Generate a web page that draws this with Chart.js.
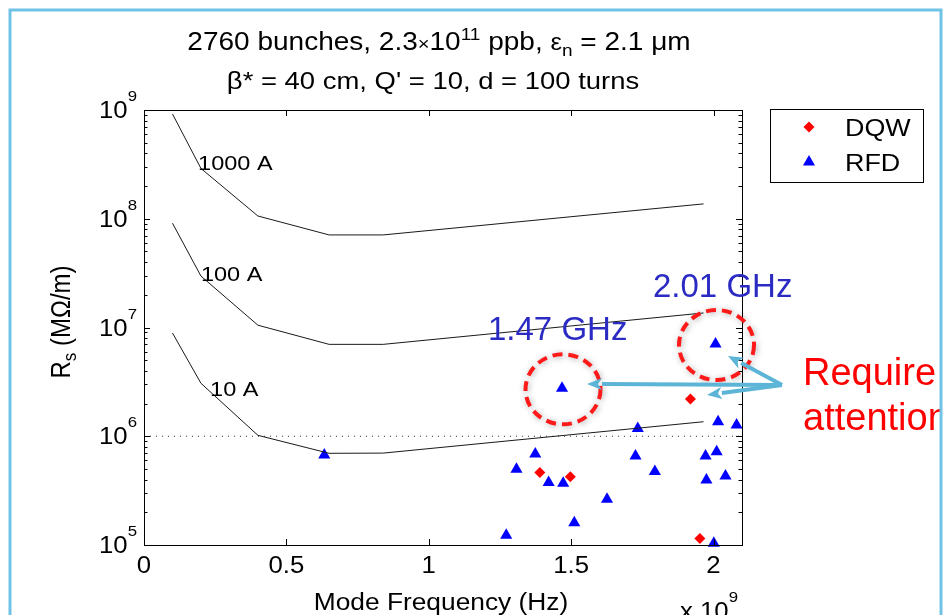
<!DOCTYPE html>
<html>
<head>
<meta charset="utf-8">
<script src="https://cdn.jsdelivr.net/npm/chart.js@4.4.1/dist/chart.umd.min.js"></script>
<style>
  html, body { margin: 0; padding: 0; background: #fff; }
  #wrap { position: relative; width: 952px; height: 615px; }
</style>
</head>
<body>
<div id="wrap"><canvas id="rs-graph" width="952" height="615"></canvas></div>
<script>
// mode frequency in units of 1e9 Hz, Rs in MOhm/m
const curve_freq = [0.1, 0.2, 0.4, 0.65, 0.84, 1.965];
const curve_1000A = [9.2e8, 2.9e8, 1.06e8, 7.1e7, 7.1e7, 1.37e8];
const curve_100A = [9.1e7, 2.97e7, 1.05e7, 7.0e6, 7.0e6, 1.36e7];
const curve_10A = [8.9e6, 3.07e6, 1.02e6, 6.97e5, 7.0e5, 1.36e6];
const curve_names = ['1000 A', '100 A', '10 A'];
const curve_label_x = [0.19, 0.2, 0.232];
const curve_label_y = [2.8e8, 2.69e7, 2.36e6];

const ref_freq = [0, 2.1];
const ref_rs = [1e6, 1e6];

const dqw_freq = [1.39, 1.497, 1.919, 1.952];
const dqw_rs = [4.63e5, 4.25e5, 2.2e6, 1.15e5];

const rfd_freq = [0.633, 1.272, 1.308, 1.374, 1.421, 1.468, 1.472, 1.511, 1.626, 1.726,
                  1.734, 1.794, 1.972, 1.975, 2.001, 2.007, 2.011, 2.016, 2.042, 2.081];
const rfd_rs = [6.73e5, 1.23e5, 4.97e5, 6.87e5, 3.76e5, 2.76e6, 3.7e5, 1.6e5, 2.63e5, 6.58e5,
                1.18e6, 4.73e5, 6.58e5, 3.96e5, 1.04e5, 7.05e6, 7.2e5, 1.36e6, 4.3e5, 1.27e6];

const x_ticks = [0, 0.5, 1, 1.5, 2];
const y_ticks = [1e5, 1e6, 1e7, 1e8, 1e9];

// points that are circled on the slide
const circled_freq = [1.468, 2.007];
const circled_text = ['1.47 GHz', '2.01 GHz'];

const FONT = '"Liberation Sans", Arial, sans-serif';
const SX = 1.12; // the matlab figure is a bit stretched sideways on the slide

function to_xy(xs, ys) {
    return xs.map((x, i) => ({ x: x, y: ys[i] }));
}

// draws text made of pieces (for super/subscripts)
function rich_text(ctx, parts, x, y, align, sx, sy, rot) {
    let w = 0;
    for (let p of parts) {
        ctx.font = p.s + 'px ' + FONT;
        w += ctx.measureText(p.t).width;
    }
    let cx = align === 'center' ? -w / 2 : (align === 'right' ? -w : 0);
    ctx.save();
    ctx.translate(x, y);
    if (rot) ctx.rotate(rot);
    ctx.scale(sx, sy);
    ctx.textAlign = 'left';
    ctx.textBaseline = 'alphabetic';
    for (let p of parts) {
        ctx.font = p.s + 'px ' + FONT;
        ctx.fillText(p.t, cx, p.dy || 0);
        cx += ctx.measureText(p.t).width;
    }
    ctx.restore();
}

function arrow(ctx, x0, y0, x1, y1) {
    let a = Math.atan2(y1 - y0, x1 - x0);
    let hl = 15, hw = 6;
    let bx = x1 - Math.cos(a) * hl, by = y1 - Math.sin(a) * hl;
    ctx.beginPath();
    ctx.moveTo(x0, y0);
    ctx.lineTo(bx, by);
    ctx.stroke();
    ctx.beginPath();
    ctx.moveTo(x1, y1);
    ctx.lineTo(bx - Math.sin(a) * hw, by + Math.cos(a) * hw);
    ctx.lineTo(x1 - Math.cos(a) * (hl - 4), y1 - Math.sin(a) * (hl - 4));
    ctx.lineTo(bx + Math.sin(a) * hw, by - Math.cos(a) * hw);
    ctx.closePath();
    ctx.fill();
}

const decor = {
    id: 'decor',
    beforeDraw(chart) {
        let ctx = chart.ctx;
        ctx.save();
        ctx.fillStyle = '#fff';
        ctx.fillRect(0, 0, chart.width, chart.height);
        ctx.restore();
    },
    afterDatasetsDraw(chart) {
        let ctx = chart.ctx;
        let xs = chart.scales.x, ys = chart.scales.y;
        let a = chart.chartArea;
        ctx.save();

        // axes box + ticks
        ctx.strokeStyle = '#000';
        ctx.lineWidth = 1;
        ctx.strokeRect(a.left + 0.5, a.top + 0.5, a.right - a.left, a.bottom - a.top);
        ctx.beginPath();
        for (let t of x_ticks) {
            let px = Math.round(xs.getPixelForValue(t)) + 0.5;
            ctx.moveTo(px, a.bottom); ctx.lineTo(px, a.bottom - 6);
            ctx.moveTo(px, a.top); ctx.lineTo(px, a.top + 6);
        }
        for (let d = 0; d < y_ticks.length; d++) {
            let v = y_ticks[d];
            let py = Math.round(ys.getPixelForValue(v)) + 0.5;
            ctx.moveTo(a.left, py); ctx.lineTo(a.left + 6, py);
            ctx.moveTo(a.right, py); ctx.lineTo(a.right - 6, py);
            if (d < y_ticks.length - 1) {
                for (let m = 2; m < 10; m++) {
                    let pm = Math.round(ys.getPixelForValue(v * m)) + 0.5;
                    ctx.moveTo(a.left, pm); ctx.lineTo(a.left + 3.5, pm);
                    ctx.moveTo(a.right, pm); ctx.lineTo(a.right - 3.5, pm);
                }
            }
        }
        ctx.stroke();

        // tick labels
        ctx.fillStyle = '#000';
        for (let t of x_ticks) {
            rich_text(ctx, [{ t: String(t), s: 23 }], xs.getPixelForValue(t), 573, 'center', SX, 1);
        }
        for (let v of y_ticks) {
            let py = ys.getPixelForValue(v);
            rich_text(ctx, [{ t: '10', s: 23 }, { t: String(Math.round(Math.log10(v))), s: 15, dy: -17 }],
                137, py + 8, 'right', SX, 1);
        }
        rich_text(ctx, [{ t: 'x 10', s: 23 }, { t: '9', s: 15, dy: -17 }], 680, 619, 'left', SX, 1);

        // axis titles
        rich_text(ctx, [{ t: 'Mode Frequency (Hz)', s: 23.5 }], (a.left + a.right) / 2 - 2, 610, 'center', SX, 1);
        rich_text(ctx, [{ t: 'R', s: 24 }, { t: 's', s: 17, dy: 5 }, { t: ' (M\u03A9/m)', s: 24 }],
            70, 322, 'center', 1, SX, -Math.PI / 2);

        // title
        let cxt = (a.left + a.right) / 2 - 4;
        rich_text(ctx, [
            { t: '2760 bunches, 2.3', s: 25 }, { t: '\u00D7', s: 18 }, { t: '10', s: 25 },
            { t: '11', s: 17, dy: -10 }, { t: ' ppb, ', s: 25 }, { t: '\u03B5', s: 23 },
            { t: 'n', s: 17, dy: 6 }, { t: ' = 2.1 \u03BCm', s: 25 }
        ], cxt, 50, 'center', SX, 1);
        rich_text(ctx, [{ t: '\u03B2* = 40 cm, Q\' = 10, d = 100 turns', s: 24.5 }], cxt - 6, 89, 'center', SX, 1);

        // curve labels
        for (let i = 0; i < curve_names.length; i++) {
            rich_text(ctx, [{ t: curve_names[i], s: 21 }],
                xs.getPixelForValue(curve_label_x[i]), ys.getPixelForValue(curve_label_y[i]), 'left', SX, 1);
        }

        // legend
        ctx.strokeStyle = '#000';
        ctx.lineWidth = 1;
        ctx.strokeRect(770.5, 109.5, 153, 73);
        let leg = [chart.data.datasets[4], chart.data.datasets[5]];
        let ly = [127, 162];
        leg.forEach((ds, i) => {
            ctx.fillStyle = ds.backgroundColor;
            ctx.strokeStyle = ds.borderColor;
            Chart.helpers.drawPoint(ctx, { pointStyle: ds.pointStyle, radius: ds.pointRadius, rotation: 0, borderWidth: 0 }, 809, ly[i]);
            ctx.fillStyle = '#000';
            rich_text(ctx, [{ t: ds.label, s: 24 }], 845, ly[i] + 9, 'left', SX, 1);
        });
        ctx.restore();

        // slide annotations
        ctx.save();
        ctx.beginPath();
        ctx.rect(0, 0, 940, chart.height);
        ctx.clip();
        let pts = circled_freq.map(f => {
            let i = rfd_freq.indexOf(f);
            return { x: xs.getPixelForValue(rfd_freq[i]), y: ys.getPixelForValue(rfd_rs[i]) };
        });
        ctx.save();
        ctx.shadowColor = 'rgba(0,0,0,0.35)';
        ctx.shadowBlur = 6;
        ctx.shadowOffsetX = 1;
        ctx.shadowOffsetY = 1;
        ctx.strokeStyle = '#ff1a1a';
        ctx.lineWidth = 4;
        ctx.setLineDash([10, 6]);
        for (let p of pts) {
            ctx.beginPath();
            ctx.ellipse(p.x + 1, p.y + 1, 37.5, 35, 0, 0, Math.PI * 2);
            ctx.stroke();
        }
        ctx.restore();

        ctx.strokeStyle = '#5cb4d6';
        ctx.fillStyle = '#5cb4d6';
        ctx.lineWidth = 4;
        arrow(ctx, 782, 385, 587, 384);
        arrow(ctx, 782, 385, 728, 356);
        arrow(ctx, 782, 385, 707, 395);

        ctx.fillStyle = '#2b2bc4';
        ctx.font = '33px ' + FONT;
        ctx.textAlign = 'left';
        ctx.textBaseline = 'alphabetic';
        ctx.fillText(circled_text[0], 488, 340);
        ctx.fillText(circled_text[1], 653, 297);

        ctx.fillStyle = '#ff0000';
        ctx.font = '38px ' + FONT;
        ctx.fillText('Require', 803, 385);
        ctx.fillText('attention', 803, 430);
        ctx.restore();

        // slide frame
        ctx.save();
        ctx.strokeStyle = '#70c3e5';
        ctx.lineWidth = 3;
        ctx.strokeRect(10, 10, 931, 700);
        ctx.restore();
    }
};

const line_style = { showLine: true, pointRadius: 0, borderColor: '#1a1a1a', borderWidth: 1, fill: false, tension: 0 };

var chart = new Chart(document.getElementById('rs-graph'), {
    type: 'scatter',
    data: {
        datasets: [
            { label: curve_names[0], data: to_xy(curve_freq, curve_1000A), ...line_style },
            { label: curve_names[1], data: to_xy(curve_freq, curve_100A), ...line_style },
            { label: curve_names[2], data: to_xy(curve_freq, curve_10A), ...line_style },
            { label: 'ref', data: to_xy(ref_freq, ref_rs), ...line_style, borderColor: '#333', borderDash: [1, 5] },
            {
                label: 'DQW', data: to_xy(dqw_freq, dqw_rs), showLine: false,
                pointStyle: 'rectRot', pointRadius: 5.5, backgroundColor: '#ff0000', borderColor: '#ff0000',
                borderWidth: 0, clip: false
            },
            {
                label: 'RFD', data: to_xy(rfd_freq, rfd_rs), showLine: false,
                pointStyle: 'triangle', pointRadius: 7, backgroundColor: '#0000ff', borderColor: '#0000ff',
                borderWidth: 0, clip: false
            }
        ]
    },
    options: {
        responsive: false,
        animation: false,
        devicePixelRatio: 1,
        layout: { padding: { left: 0, top: 110, right: 210, bottom: 0 } },
        scales: {
            x: {
                type: 'linear', min: 0, max: 2.1,
                ticks: { display: false }, grid: { display: false }, border: { display: false },
                afterFit: s => { s.height = 70; }
            },
            y: {
                type: 'logarithmic', min: 1e5, max: 1e9,
                ticks: { display: false }, grid: { display: false }, border: { display: false },
                afterFit: s => { s.width = 144; }
            }
        },
        plugins: { legend: { display: false }, tooltip: { enabled: false } }
    },
    plugins: [decor]
});
</script>
</body>
</html>
